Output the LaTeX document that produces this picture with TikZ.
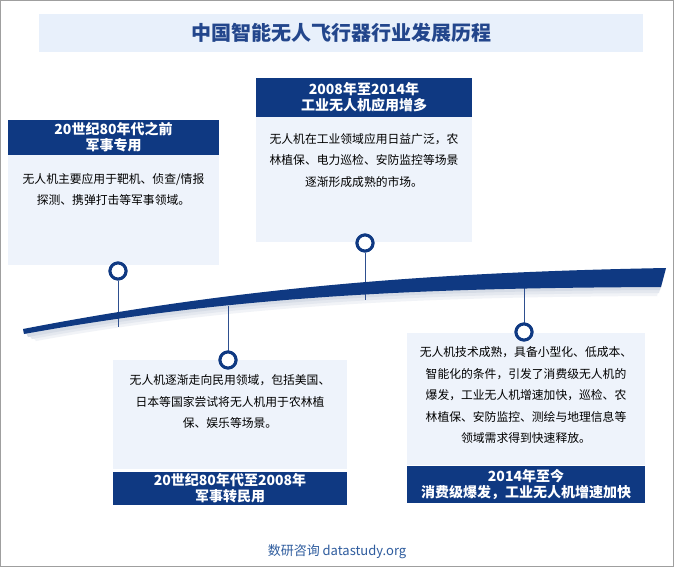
\documentclass[tikz,border=0pt]{standalone}
\usepackage{fontspec}
\setmainfont{Noto Sans CJK SC}
\definecolor{navy}{HTML}{0F3982}
\definecolor{bodybg}{HTML}{EEF3FB}
\definecolor{titlebg}{HTML}{E8F0FB}
\definecolor{titlefg}{HTML}{23468C}
\definecolor{linec}{HTML}{2E4F8F}
\definecolor{foot}{HTML}{2E5C9E}
\definecolor{shadeA}{HTML}{F1F3F7}
\definecolor{shadeB}{HTML}{E4E8EF}
\definecolor{shadeC}{HTML}{D6DCE6}
\begin{document}
\begin{tikzpicture}[x=1pt,y=-1pt,
  hdr/.style={fill=navy, draw=none, text=white, font=\bfseries\fontsize{14}{16}\selectfont, align=center, inner sep=0},
  bodybox/.style={fill=bodybg, draw=none, inner sep=0},
  bodytext/.style={text=black, font=\fontsize{11.8}{21.5}\selectfont, align=center, inner sep=0},
  dot/.style={circle, draw=navy, line width=3pt, fill=white, minimum size=16pt, inner sep=0},
  conn/.style={draw=linec, line width=0.8pt}]
\useasboundingbox (0,0) rectangle (675,568);
\fill[white] (0,0) rectangle (675,568);
\draw[gray!75, line width=1pt] (0.5,0.5) rectangle (673.5,566.5);

% title
\node[fill=titlebg, minimum width=604pt, minimum height=38pt, inner sep=0,
      text=titlefg, font=\bfseries\fontsize{20}{22}\selectfont] (title) at (341,33) {中国智能无人飞行器行业发展历程};

% box 1
\node[hdr, minimum width=211pt, minimum height=35pt] (h1) at (113.5,137.5) {20世纪80年代之前\\军事专用};
\node[bodybox, minimum width=211pt, minimum height=110pt] (b1) at (113.5,210) {};
\node[bodytext] (t1) at (113.5,189.5) {无人机主要应用于靶机、侦查/情报\\探测、携弹打击等军事领域。};

% box 2
\node[hdr, minimum width=216pt, minimum height=39pt] (h2) at (364,97.5) {2008年至2014年\\工业无人机应用增多};
\node[bodybox, minimum width=216pt, minimum height=125pt] (b2) at (364,179.5) {};
\node[bodytext] (t2) at (364,160.5) {无人机在工业领域应用日益广泛，农\\林植保、电力巡检、安防监控等场景\\逐渐形成成熟的市场。};

% box 3
\node[bodybox, minimum width=234pt, minimum height=109pt] (b3) at (230,414.5) {};
\node[hdr, minimum width=234pt, minimum height=33pt] (h3) at (230,488.5) {20世纪80年代至2008年\\军事转民用};
\node[bodytext] (t3) at (230,401.5) {无人机逐渐走向民用领域，包括美国、\\日本等国家尝试将无人机用于农林植\\保、娱乐等场景。};

% box 4
\node[bodybox, minimum width=238pt, minimum height=132pt] (b4) at (526,399) {};
\node[hdr, minimum width=238pt, minimum height=37pt] (h4) at (526,484.5) {2014年至今\\消费级爆发，工业无人机增速加快};
\node[bodytext] (t4) at (526,395.5) {无人机技术成熟，具备小型化、低成本、\\智能化的条件，引发了消费级无人机的\\爆发，工业无人机增速加快，巡检、农\\林植保、安防监控、测绘与地理信息等\\领域需求得到快速释放。};

% swoosh soft shadow (stacked light layers)
\fill[shadeA] (28,331) .. controls (250,287) and (450,274) .. (664,272) -- (657,296) .. controls (450,297) and (250,302) .. (36,341) -- cycle;
\fill[shadeB] (26,331) .. controls (250,286) and (450,273) .. (665,270) -- (659,293) .. controls (450,294) and (250,299) .. (32,339) -- cycle;
\fill[shadeC] (25,330) .. controls (250,285) and (450,272) .. (666,269) -- (660,290) .. controls (450,291) and (250,296) .. (28,337) -- cycle;

% circles and connectors
\coordinate (e1) at (118,327);
\coordinate (e2) at (365,300);
\coordinate (e3) at (228,306);
\coordinate (e4) at (524,286);
\node[dot] (c1) at (118,271) {};
\node[dot] (c2) at (365,243) {};
\node[dot] (c3) at (228,360) {};
\node[dot] (c4) at (524,332) {};
\draw[conn] (c1) -- (e1);
\draw[conn] (c2) -- (e2);
\draw[conn] (c3) -- (e3);
\draw[conn] (c4) -- (e4);

% swoosh
\fill[navy] (23,329) .. controls (250,285) and (450,272) .. (666,268) -- (661,287) .. controls (450,288) and (250,293) .. (24,334) -- cycle;

% circles above connectors
\node[dot] at (c1) {};
\node[dot] at (c2) {};
\node[dot] at (c3) {};
\node[dot] at (c4) {};

% footer
\node[text=foot, font=\fontsize{13}{15}\selectfont, inner sep=0] (foot) at (337,552) {数研咨询 datastudy.org};
\end{tikzpicture}
\end{document}
